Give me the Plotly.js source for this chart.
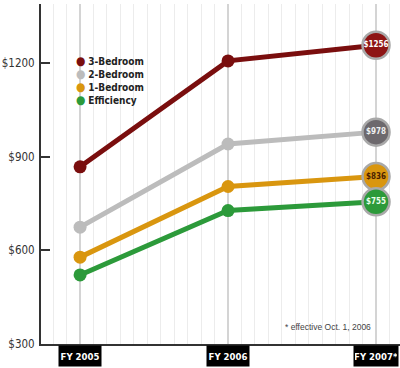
<!DOCTYPE html>
<html>
<head>
<meta charset="utf-8">
<script src="https://cdn.plot.ly/plotly-3.0.1.min.js"></script>
<style>body{margin:0;background:#fff}#chart{width:400px;height:368px}</style>
</head>
<body>
<div id="chart"></div>
<script>
const categories = ["FY 2005", "FY 2006", "FY 2007*"];
const seriesNames = ["3-Bedroom", "2-Bedroom", "1-Bedroom", "Efficiency"];
const threeBedroom = [867, 1206, 1256];
const twoBedroom = [674, 940, 978];
const oneBedroom = [578, 804, 836];
const efficiency = [521, 727, 755];
const yTickVals = [300, 600, 900, 1200];
const yTickText = ["$300", "$600", "$900", "$1200"];
const footnote = "* effective Oct. 1, 2006";

const lineColors = ["#7a0e0e", "#bcbcbc", "#d9960f", "#2c9a3a"];
const endColors = ["#8e1414", "#6d696d", "#d9960f", "#2c9a3a"];
const endTextColors = ["#ffffff", "#f0f0f0", "#4a1e00", "#eaffea"];
const allSeries = [threeBedroom, twoBedroom, oneBedroom, efficiency];
const xs = categories.map((c, i) => i);
const FONT = "'DejaVu Sans Condensed', 'Liberation Sans Narrow', sans-serif";

const traces = [];
allSeries.forEach((vals, k) => {
  traces.push({
    x: xs, y: vals, mode: "lines+markers", name: seriesNames[k], showlegend: false,
    line: {color: lineColors[k], width: 5},
    marker: {color: lineColors[k], size: 13}, hoverinfo: "skip"
  });
});
allSeries.forEach((vals, k) => {
  const last = vals.length - 1;
  traces.push({
    x: [xs[last]], y: [vals[last]], mode: "markers+text", showlegend: false,
    text: ["$" + vals[last]], textposition: "middle center",
    textfont: {family: FONT, size: 8, color: endTextColors[k], weight: "bold"},
    marker: {color: endColors[k], size: 27, line: {color: "#a9a9a9", width: 2.5}},
    hoverinfo: "skip"
  });
});

const annotations = [];
categories.forEach((c, i) => {
  annotations.push({
    x: i, xref: "x", y: 0, yref: "paper", yanchor: "top", yshift: -1,
    text: "<b>" + c + "</b>", showarrow: false, bgcolor: "#000000",
    width: c.length > 7 ? 42 : 40, height: 18,
    font: {family: FONT, size: 9.5, color: "#ffffff"}
  });
});
annotations.push({
  x: 0.092, xref: "paper", y: 1 - 48 / 340, yref: "paper",
  xanchor: "left", yanchor: "top", align: "left",
  text: seriesNames.map((n, k) =>
    '<span style="color:' + lineColors[k] + ';font-size:12px">●</span> <b>' + n + '</b>').join("<br>"),
  showarrow: false, font: {family: FONT, size: 10, color: "#222"}
});
annotations.push({
  x: 0.925, xref: "paper", y: 0.05, yref: "paper", xanchor: "right", yanchor: "middle",
  text: footnote, showarrow: false,
  font: {family: "'Liberation Sans', Arial, sans-serif", size: 8.5, color: "#444"}
});

const layout = {
  width: 400, height: 368,
  margin: {l: 41, r: 0, t: 4, b: 24},
  paper_bgcolor: "#ffffff", plot_bgcolor: "#ffffff",
  showlegend: false,
  xaxis: {
    range: [-0.264, 2.162], tickvals: xs, showticklabels: false, ticks: "",
    showgrid: true, gridcolor: "#d4d4d4", gridwidth: 1.5, zeroline: false,
    showline: true, linecolor: "#333", linewidth: 2,
    minor: {dtick: 1 / 11, tick0: 0, showgrid: true, gridcolor: "#ececec", gridwidth: 1, ticks: ""}
  },
  yaxis: {
    range: [300, 1388], tickvals: yTickVals, ticktext: yTickText,
    ticks: "inside", ticklen: 9, tickwidth: 2, tickcolor: "#333",
    showgrid: false, zeroline: false, showline: true, linecolor: "#333", linewidth: 2,
    tickfont: {family: FONT, size: 11.5, color: "#333"}, ticklabelstandoff: 2
  },
  annotations: annotations
};
Plotly.newPlot("chart", traces, layout, {staticPlot: true, displayModeBar: false});
</script>
</body>
</html>
